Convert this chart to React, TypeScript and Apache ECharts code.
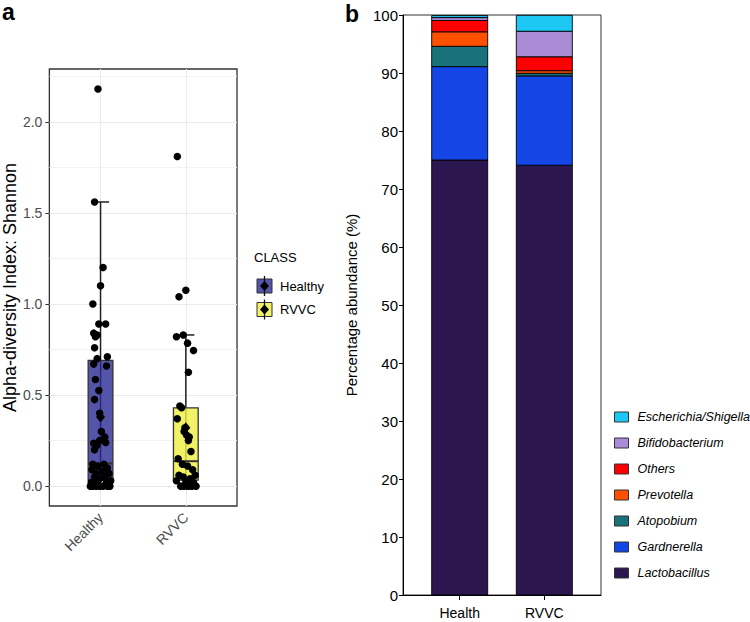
import React, { useEffect, useRef } from "react";
import * as echarts from "echarts";

// ---------- Panel a: Shannon diversity ----------
const classes = ["Healthy", "RVVC"];
const classFills = ["rgba(41,41,146,0.8)", "rgba(239,239,64,0.8)"];
// [min, Q1, median, Q3, upper whisker]
const healthyBox = [0, 0.033, 0.125, 0.69, 1.56];
const rvvcBox = [0, 0.033, 0.137, 0.43, 0.83];
const classMeans = [0.38, 0.32];
const shannonTicks = [0, 0.5, 1.0, 1.5, 2.0];
const shannonMinor = [0.25, 0.75, 1.25, 1.75, 2.25];

// jittered sample points [x position, Shannon index]
const healthyPoints = [
  [0.97, 2.18], [0.93, 1.56], [1.03, 1.2], [1.0, 1.1], [0.91, 1.0], [0.98, 0.89], [1.06, 0.89],
  [0.92, 0.84], [0.96, 0.83], [0.94, 0.82], [0.93, 0.76], [1.08, 0.71], [0.96, 0.7], [0.92, 0.67],
  [1.07, 0.66], [0.94, 0.585], [0.98, 0.525], [0.93, 0.475], [0.99, 0.4], [1.01, 0.3], [1.05, 0.27],
  [0.99, 0.25], [0.92, 0.235], [0.96, 0.225], [1.06, 0.24], [0.93, 0.2], [0.91, 0.12], [1.04, 0.12],
  [0.97, 0.11], [1.08, 0.1], [0.9, 0.09], [1.02, 0.08], [0.95, 0.07], [1.1, 0.07], [0.93, 0.05],
  [1.05, 0.05], [0.99, 0.04], [1.12, 0.03], [0.89, 0.02], [0.96, 0.02], [1.07, 0.02], [0.91, 0.0],
  [0.95, 0.0], [0.99, 0.0], [1.03, 0.0], [1.08, 0.0], [1.11, 0.0], [0.88, 0.0],
];
const rvvcPoints = [
  [1.9, 1.81], [1.92, 1.04], [2.0, 1.075], [1.89, 0.82], [1.97, 0.83], [2.02, 0.785], [2.09, 0.745],
  [2.03, 0.625], [1.93, 0.44], [1.95, 0.43], [1.9, 0.37], [1.99, 0.32], [1.98, 0.3], [2.01, 0.28],
  [2.04, 0.27], [2.03, 0.25], [2.06, 0.19], [1.91, 0.15], [1.96, 0.12], [2.02, 0.11], [2.08, 0.09],
  [1.92, 0.06], [2.11, 0.06], [1.97, 0.05], [2.05, 0.04], [1.89, 0.03], [2.0, 0.02], [2.09, 0.02],
  [1.94, 0.0], [1.98, 0.0], [2.03, 0.0], [2.07, 0.0], [2.12, 0.0],
];

// ---------- Panel b: relative abundance ----------
const groups = ["Health", "RVVC"];
const taxa = [
  "Lactobacillus",
  "Gardnerella",
  "Atopobium",
  "Prevotella",
  "Others",
  "Bifidobacterium",
  "Escherichia/Shigella",
];
const taxaColors = ["#2C1650", "#1446E6", "#17727A", "#FF5000", "#FF0000", "#A98BD6", "#1EC8F5"];
const lactobacillus = [75.0, 74.1];
const gardnerella = [16.1, 15.4];
const atopobium = [3.5, 0.45];
const prevotella = [2.5, 0.45];
const others = [1.95, 2.4];
const bifidobacterium = [0.5, 4.4];
const escherichia = [0.35, 2.75];
const abundance = [lactobacillus, gardnerella, atopobium, prevotella, others, bifidobacterium, escherichia];

const FONT = "'Liberation Sans', Arial, Helvetica, sans-serif";

export default function App() {
  const ref = useRef<HTMLDivElement>(null);

  useEffect(() => {
    document.body.style.margin = "0";
    const chart = echarts.init(ref.current as HTMLDivElement, undefined, { renderer: "svg" });

    const boxRows = [healthyBox, rvvcBox].map((b, i) => [i + 1, ...b, classMeans[i]]);

    // cumulative stacking of the abundance arrays
    const bases: number[][] = [];
    abundance.forEach((vals, i) => {
      bases.push(vals.map((_, j) => (i === 0 ? 0 : bases[i - 1][j] + abundance[i - 1][j])));
    });

    const legendA: any[] = [
      {
        type: "text",
        x: 254,
        y: 251,
        style: { text: "CLASS", fontSize: 13, fill: "#000", fontFamily: FONT },
      },
    ];
    classes.forEach((c, i) => {
      const y0 = 279 + i * 23.5;
      legendA.push(
        {
          type: "rect",
          shape: { x: 257, y: y0, width: 15, height: 14 },
          style: { fill: classFills[i], stroke: "#333", lineWidth: 1 },
        },
        {
          type: "line",
          shape: { x1: 264.5, y1: y0 - 3, x2: 264.5, y2: y0 + 17 },
          style: { stroke: "#111", lineWidth: 1.3 },
        },
        {
          type: "polygon",
          shape: { points: [[264.5, y0 + 2], [269, y0 + 7], [264.5, y0 + 12], [260, y0 + 7]] },
          style: { fill: "#000" },
        },
        {
          type: "text",
          x: 280,
          y: y0 + 7,
          style: { text: c, fontSize: 13, fill: "#000", verticalAlign: "middle", fontFamily: FONT },
        }
      );
    });

    const option: any = {
      animation: false,
      backgroundColor: "#fff",
      textStyle: { fontFamily: FONT },
      grid: [
        { left: 49, top: 69, width: 188, height: 437, show: true, borderColor: "#333", borderWidth: 1.3, backgroundColor: "transparent" },
        { left: 403, top: 15, width: 198, height: 580, show: true, borderColor: "#333", borderWidth: 1 },
      ],
      xAxis: [
        {
          type: "value",
          gridIndex: 0,
          min: 0.4,
          max: 2.6,
          axisLine: { show: false },
          splitLine: { show: false },
          axisTick: { show: true, customValues: [1, 2], length: 4, lineStyle: { color: "#333" } },
          axisLabel: {
            customValues: [1, 2],
            formatter: (v: number) => classes[Math.round(v) - 1] || "",
            rotate: 45,
            margin: 9,
            fontSize: 14,
            color: "#4D4D4D",
          },
        },
        {
          type: "value",
          gridIndex: 1,
          min: 0.33,
          max: 2.67,
          axisLine: { show: true, lineStyle: { color: "#000" } },
          splitLine: { show: false },
          axisTick: { show: true, customValues: [1, 2], length: 5, lineStyle: { color: "#000" } },
          axisLabel: {
            customValues: [1, 2],
            formatter: (v: number) => groups[Math.round(v) - 1] || "",
            margin: 11,
            fontSize: 14,
            color: "#000",
          },
        },
      ],
      yAxis: [
        {
          type: "value",
          gridIndex: 0,
          min: -0.109,
          max: 2.29,
          axisLine: { show: false },
          splitLine: { show: false },
          axisTick: { show: true, customValues: shannonTicks, length: 4, lineStyle: { color: "#333" } },
          axisLabel: {
            customValues: shannonTicks,
            formatter: (v: number) => v.toFixed(1),
            fontSize: 14,
            color: "#4D4D4D",
            margin: 7,
          },
          name: "Alpha-diversity Index: Shannon",
          nameLocation: "middle",
          nameGap: 29,
          nameTextStyle: { fontSize: 18, color: "#000" },
        },
        {
          type: "value",
          gridIndex: 1,
          min: 0,
          max: 100,
          interval: 10,
          axisLine: { show: true, lineStyle: { color: "#000" } },
          splitLine: { show: false },
          axisTick: { show: true, length: 4, lineStyle: { color: "#000" } },
          axisLabel: { fontSize: 15, color: "#000", margin: 5 },
          name: "Percentage abundance (%)",
          nameLocation: "middle",
          nameGap: 44,
          nameTextStyle: { fontSize: 15, color: "#000" },
        },
      ],
      legend: {
        orient: "vertical",
        left: 609,
        top: 405,
        data: [...taxa].reverse(),
        itemWidth: 14,
        itemHeight: 10,
        itemGap: 12,
        icon: "rect",
        itemStyle: { borderColor: "#333", borderWidth: 1 },
        textStyle: { fontSize: 12.5, fontStyle: "italic", color: "#000", lineHeight: 14, padding: [0, 0, 0, 4] },
        selectedMode: false,
      },
      graphic: [
        { type: "text", x: 2, y: 0, style: { text: "a", fontSize: 23, fontWeight: "bold", fill: "#000", fontFamily: FONT } },
        { type: "text", x: 345, y: 2, style: { text: "b", fontSize: 23, fontWeight: "bold", fill: "#000", fontFamily: FONT } },
        ...legendA,
      ],
      series: [
        {
          type: "line",
          xAxisIndex: 0,
          yAxisIndex: 0,
          data: [],
          z: 0,
          markLine: {
            z: 0,
            silent: true,
            symbol: ["none", "none"],
            label: { show: false },
            lineStyle: { color: "#EBEBEB", width: 1.1, type: "solid" },
            data: [
              ...shannonTicks.map((v) => ({ yAxis: v })),
              ...shannonMinor.map((v) => ({ yAxis: v, lineStyle: { color: "#F0F0F0", width: 0.8, type: "solid" } })),
              { xAxis: 1 },
              { xAxis: 2 },
            ],
          },
        },
        {
          type: "custom",
          xAxisIndex: 0,
          yAxisIndex: 0,
          z: 2,
          data: boxRows,
          encode: { x: 0, y: [1, 2, 3, 4, 5, 6] },
          renderItem: (params: any, api: any) => {
            const x = api.value(0);
            const pt = (v: number) => api.coord([x, v]);
            const half = api.size([0.145, 0])[0];
            const capHalf = api.size([0.1, 0])[0];
            const [cx, yMin] = pt(api.value(1));
            const yQ1 = pt(api.value(2))[1];
            const yMed = pt(api.value(3))[1];
            const yQ3 = pt(api.value(4))[1];
            const yMax = pt(api.value(5))[1];
            const yMean = pt(api.value(6))[1];
            const fill = classFills[params.dataIndex];
            return {
              type: "group",
              children: [
                { type: "line", shape: { x1: cx, y1: yMin, x2: cx, y2: yMax }, style: { stroke: "#222", lineWidth: 1.5 } },
                { type: "line", shape: { x1: cx - capHalf, y1: yMax, x2: cx + capHalf, y2: yMax }, style: { stroke: "#222", lineWidth: 1.5 } },
                {
                  type: "rect",
                  shape: { x: cx - half, y: yQ3, width: half * 2, height: yQ1 - yQ3 },
                  style: { fill, stroke: "#333", lineWidth: 1.3 },
                },
                { type: "line", shape: { x1: cx - half, y1: yMed, x2: cx + half, y2: yMed }, style: { stroke: "#333", lineWidth: 2 } },
                {
                  type: "polygon",
                  shape: { points: [[cx, yMean - 5.5], [cx + 4.5, yMean], [cx, yMean + 5.5], [cx - 4.5, yMean]] },
                  style: { fill: "#000" },
                },
              ],
            };
          },
        },
        {
          type: "scatter",
          xAxisIndex: 0,
          yAxisIndex: 0,
          z: 3,
          symbolSize: 7.5,
          itemStyle: { color: "#000", opacity: 1 },
          data: [...healthyPoints, ...rvvcPoints],
        },
        ...taxa.map((t, i) => ({
          name: t,
          type: "custom",
          xAxisIndex: 1,
          yAxisIndex: 1,
          itemStyle: { color: taxaColors[i] },
          data: groups.map((_, j) => [j + 1, bases[i][j], bases[i][j] + abundance[i][j]]),
          encode: { x: 0, y: [1, 2] },
          renderItem: (_params: any, api: any) => {
            const x = api.value(0);
            const p0 = api.coord([x, api.value(1)]);
            const p1 = api.coord([x, api.value(2)]);
            const w = api.size([0.662, 0])[0];
            return {
              type: "rect",
              shape: { x: p0[0] - w / 2, y: p1[1], width: w, height: p0[1] - p1[1] },
              style: { fill: taxaColors[i], stroke: "#000", lineWidth: 0.9 },
            };
          },
        })),
      ],
    };

    chart.setOption(option);
    return () => chart.dispose();
  }, []);

  return <div ref={ref} style={{ position: "fixed", left: 0, top: 0, width: 750, height: 622 }} />;
}
